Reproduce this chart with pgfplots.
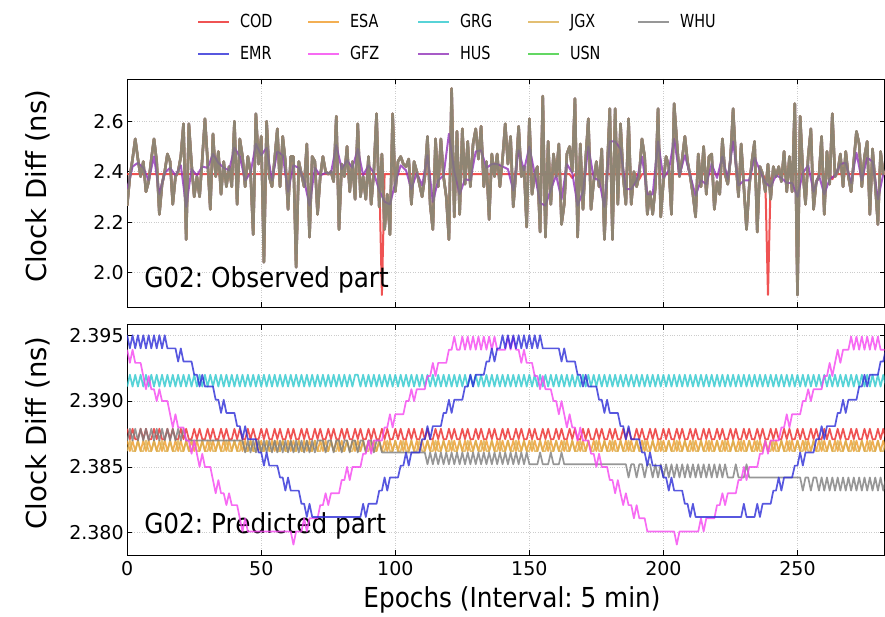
\documentclass[border=0pt]{standalone}
\usepackage{pgfplots}
\pgfplotsset{compat=1.18}
\usepackage{pgfplotstable}
\usepackage{fontspec}
\setmainfont{DejaVu Sans}[FakeStretch=0.9]
\newfontfamily\ylabfont{DejaVu Sans}
\newfontfamily\tickfont{DejaVu Sans}
\newfontfamily\legfont{DejaVu Sans}[FakeStretch=0.8]
\definecolor{codc}{RGB}{235,40,40}
\definecolor{emrc}{RGB}{45,45,215}
\definecolor{esac}{RGB}{240,155,40}
\definecolor{gfzc}{RGB}{245,70,240}
\definecolor{grgc}{RGB}{45,200,205}
\definecolor{husc}{RGB}{145,50,185}
\definecolor{jgxc}{RGB}{220,175,80}
\definecolor{usnc}{RGB}{60,205,60}
\definecolor{whuc}{RGB}{125,125,125}

% observed part (common series of the solutions), one value per epoch
\pgfplotstableread[row sep=\\]{y\\
2.265\\ 2.38\\ 2.45\\ 2.53\\ 2.45\\ 2.38\\ 2.44\\ 2.32\\ 2.36\\ 2.45\\
2.53\\ 2.44\\ 2.23\\ 2.35\\ 2.40\\ 2.47\\ 2.44\\ 2.27\\ 2.38\\ 2.40\\
2.46\\ 2.59\\ 2.13\\ 2.59\\ 2.43\\ 2.30\\ 2.38\\ 2.30\\ 2.45\\ 2.61\\
2.44\\ 2.25\\ 2.55\\ 2.38\\ 2.48\\ 2.31\\ 2.44\\ 2.34\\ 2.42\\ 2.34\\
2.60\\ 2.27\\ 2.53\\ 2.46\\ 2.34\\ 2.46\\ 2.40\\ 2.15\\ 2.63\\ 2.43\\
2.54\\ 2.04\\ 2.60\\ 2.38\\ 2.34\\ 2.45\\ 2.57\\ 2.34\\ 2.54\\ 2.44\\
2.25\\ 2.46\\ 2.46\\ 2.02\\ 2.44\\ 2.39\\ 2.34\\ 2.51\\ 2.14\\ 2.46\\
2.44\\ 2.23\\ 2.38\\ 2.46\\ 2.40\\ 2.39\\ 2.40\\ 2.36\\ 2.62\\ 2.17\\
2.43\\ 2.38\\ 2.50\\ 2.32\\ 2.44\\ 2.29\\ 2.59\\ 2.30\\ 2.38\\ 2.29\\
2.46\\ 2.27\\ 2.40\\ 2.63\\ 2.26\\ 2.47\\ 2.17\\ 2.31\\ 2.15\\ 2.63\\
2.32\\ 2.44\\ 2.46\\ 2.43\\ 2.42\\ 2.45\\ 2.27\\ 2.44\\ 2.40\\ 2.35\\
2.30\\ 2.38\\ 2.54\\ 2.27\\ 2.17\\ 2.53\\ 2.34\\ 2.53\\ 2.38\\ 2.30\\
2.13\\ 2.73\\ 2.22\\ 2.56\\ 2.23\\ 2.57\\ 2.35\\ 2.52\\ 2.34\\ 2.51\\
2.57\\ 2.45\\ 2.58\\ 2.34\\ 2.44\\ 2.21\\ 2.47\\ 2.38\\ 2.47\\ 2.34\\
2.45\\ 2.59\\ 2.43\\ 2.54\\ 2.26\\ 2.40\\ 2.58\\ 2.38\\ 2.42\\ 2.18\\
2.61\\ 2.31\\ 2.39\\ 2.42\\ 2.16\\ 2.70\\ 2.14\\ 2.52\\ 2.27\\ 2.47\\
2.38\\ 2.51\\ 2.19\\ 2.27\\ 2.47\\ 2.50\\ 2.40\\ 2.69\\ 2.14\\ 2.51\\
2.25\\ 2.45\\ 2.61\\ 2.25\\ 2.36\\ 2.44\\ 2.34\\ 2.49\\ 2.13\\ 2.40\\
2.65\\ 2.13\\ 2.65\\ 2.27\\ 2.59\\ 2.38\\ 2.27\\ 2.61\\ 2.27\\ 2.40\\
2.34\\ 2.39\\ 2.53\\ 2.46\\ 2.23\\ 2.32\\ 2.23\\ 2.34\\ 2.65\\ 2.22\\
2.36\\ 2.46\\ 2.42\\ 2.23\\ 2.67\\ 2.52\\ 2.38\\ 2.45\\ 2.54\\ 2.44\\
2.38\\ 2.31\\ 2.22\\ 2.47\\ 2.34\\ 2.50\\ 2.31\\ 2.46\\ 2.47\\ 2.25\\
2.36\\ 2.31\\ 2.53\\ 2.39\\ 2.35\\ 2.45\\ 2.65\\ 2.44\\ 2.30\\ 2.51\\
2.34\\ 2.17\\ 2.34\\ 2.44\\ 2.52\\ 2.16\\ 2.42\\ 2.39\\ 2.32\\ 2.43\\
2.29\\ 2.42\\ 2.38\\ 2.42\\ 2.36\\ 2.48\\ 2.32\\ 2.46\\ 2.32\\ 2.67\\
1.91\\ 2.62\\ 2.40\\ 2.27\\ 2.46\\ 2.57\\ 2.25\\ 2.36\\ 2.38\\ 2.54\\
2.23\\ 2.48\\ 2.35\\ 2.63\\ 2.38\\ 2.40\\ 2.47\\ 2.34\\ 2.48\\ 2.38\\
2.32\\ 2.44\\ 2.56\\ 2.51\\ 2.34\\ 2.46\\ 2.52\\ 2.23\\ 2.49\\ 2.35\\
2.19\\ 2.48\\ 2.39\\ 2.40\\
}\obs

% predicted part
\pgfplotstableread[row sep=\\]{y\\
2.395\\ 2.394\\ 2.395\\ 2.394\\ 2.395\\ 2.394\\ 2.395\\ 2.394\\ 2.395\\ 2.394\\
2.395\\ 2.394\\ 2.395\\ 2.394\\ 2.395\\ 2.394\\ 2.394\\ 2.394\\ 2.394\\ 2.393\\
2.394\\ 2.393\\ 2.393\\ 2.393\\ 2.393\\ 2.392\\ 2.392\\ 2.3911\\ 2.392\\ 2.3911\\
2.3911\\ 2.3911\\ 2.3911\\ 2.3901\\ 2.3901\\ 2.3891\\ 2.3901\\ 2.3891\\ 2.3891\\ 2.3891\\
2.3891\\ 2.3881\\ 2.3881\\ 2.3871\\ 2.3881\\ 2.3871\\ 2.3871\\ 2.3871\\ 2.3871\\ 2.3861\\
2.3861\\ 2.3851\\ 2.3861\\ 2.3851\\ 2.3851\\ 2.3851\\ 2.3851\\ 2.3842\\ 2.3842\\ 2.3832\\
2.3842\\ 2.3832\\ 2.3832\\ 2.3832\\ 2.3832\\ 2.3822\\ 2.3822\\ 2.3812\\ 2.3822\\ 2.3812\\
2.3812\\ 2.3812\\ 2.3812\\ 2.3812\\ 2.3812\\ 2.3812\\ 2.3812\\ 2.3812\\ 2.3812\\ 2.3812\\
2.3812\\ 2.3812\\ 2.3812\\ 2.3812\\ 2.3812\\ 2.3812\\ 2.3812\\ 2.3812\\ 2.3822\\ 2.3812\\
2.3822\\ 2.3822\\ 2.3822\\ 2.3822\\ 2.3832\\ 2.3832\\ 2.3842\\ 2.3832\\ 2.3842\\ 2.3842\\
2.3842\\ 2.3842\\ 2.3851\\ 2.3851\\ 2.3861\\ 2.3851\\ 2.3861\\ 2.3861\\ 2.3861\\ 2.3861\\
2.3871\\ 2.3871\\ 2.3881\\ 2.3871\\ 2.3881\\ 2.3881\\ 2.3881\\ 2.3881\\ 2.3891\\ 2.3891\\
2.3901\\ 2.3891\\ 2.3901\\ 2.3901\\ 2.3901\\ 2.3901\\ 2.3911\\ 2.3911\\ 2.392\\ 2.3911\\
2.392\\ 2.392\\ 2.392\\ 2.392\\ 2.393\\ 2.393\\ 2.394\\ 2.393\\ 2.394\\ 2.394\\
2.395\\ 2.394\\ 2.395\\ 2.394\\ 2.395\\ 2.394\\ 2.395\\ 2.394\\ 2.395\\ 2.394\\
2.395\\ 2.394\\ 2.395\\ 2.394\\ 2.395\\ 2.394\\ 2.394\\ 2.394\\ 2.394\\ 2.394\\
2.394\\ 2.394\\ 2.393\\ 2.394\\ 2.393\\ 2.393\\ 2.393\\ 2.393\\ 2.392\\ 2.392\\
2.3911\\ 2.392\\ 2.3911\\ 2.3911\\ 2.3911\\ 2.3911\\ 2.3901\\ 2.3901\\ 2.3891\\ 2.3901\\
2.3891\\ 2.3891\\ 2.3891\\ 2.3891\\ 2.3881\\ 2.3881\\ 2.3871\\ 2.3881\\ 2.3871\\ 2.3871\\
2.3871\\ 2.3871\\ 2.3861\\ 2.3861\\ 2.3851\\ 2.3861\\ 2.3851\\ 2.3851\\ 2.3851\\ 2.3851\\
2.3842\\ 2.3842\\ 2.3832\\ 2.3842\\ 2.3832\\ 2.3832\\ 2.3832\\ 2.3832\\ 2.3822\\ 2.3822\\
2.3812\\ 2.3822\\ 2.3812\\ 2.3812\\ 2.3812\\ 2.3812\\ 2.3812\\ 2.3812\\ 2.3812\\ 2.3812\\
2.3812\\ 2.3812\\ 2.3812\\ 2.3812\\ 2.3812\\ 2.3812\\ 2.3812\\ 2.3812\\ 2.3812\\ 2.3812\\
2.3822\\ 2.3812\\ 2.3812\\ 2.3812\\ 2.3812\\ 2.3822\\ 2.3812\\ 2.3822\\ 2.3822\\ 2.3822\\
2.3822\\ 2.3832\\ 2.3832\\ 2.3842\\ 2.3832\\ 2.3842\\ 2.3842\\ 2.3842\\ 2.3842\\ 2.3851\\
2.3851\\ 2.3861\\ 2.3851\\ 2.3861\\ 2.3861\\ 2.3861\\ 2.3861\\ 2.3871\\ 2.3871\\ 2.3881\\
2.3871\\ 2.3881\\ 2.3881\\ 2.3881\\ 2.3881\\ 2.3891\\ 2.3891\\ 2.3901\\ 2.3891\\ 2.3901\\
2.3901\\ 2.3901\\ 2.3901\\ 2.3911\\ 2.3911\\ 2.392\\ 2.3911\\ 2.392\\ 2.392\\ 2.392\\
2.392\\ 2.393\\ 2.393\\ 2.394\\
}\emr

\pgfplotstableread[row sep=\\]{y\\
2.3939\\ 2.3929\\ 2.3939\\
2.3929\\ 2.3929\\ 2.3929\\
2.3919\\ 2.3909\\ 2.3919\\
2.3909\\ 2.3909\\ 2.39\\ 2.3909\\
2.39\\ 2.39\\ 2.39\\
2.389\\ 2.388\\ 2.389\\
2.388\\ 2.388\\ 2.388\\
2.387\\ 2.387\\ 2.386\\ 2.387\\
2.386\\ 2.385\\ 2.386\\
2.385\\ 2.385\\ 2.385\\
2.384\\ 2.383\\ 2.384\\
2.383\\ 2.383\\ 2.3821\\ 2.383\\
2.3821\\ 2.3821\\ 2.3821\\
2.3811\\ 2.3801\\ 2.3811\\
2.3801\\ 2.3801\\ 2.3801\\ 2.3801\\ 2.3801\\ 2.3801\\ 2.3801\\ 2.3801\\ 2.3801\\ 2.3801\\
2.3801\\ 2.3801\\ 2.3801\\ 2.3801\\ 2.3801\\ 2.3801\\ 2.3801\\
2.3791\\ 2.3801\\
2.3801\\ 2.3801\\ 2.3811\\ 2.3801\\
2.3811\\ 2.3811\\ 2.3811\\ 2.3811\\
2.3821\\ 2.3821\\ 2.383\\ 2.3821\\
2.383\\ 2.383\\ 2.383\\ 2.383\\
2.384\\ 2.384\\ 2.385\\ 2.384\\
2.385\\ 2.385\\ 2.385\\ 2.385\\
2.386\\ 2.386\\ 2.387\\ 2.386\\
2.387\\ 2.387\\ 2.387\\ 2.387\\
2.388\\ 2.388\\ 2.389\\ 2.388\\
2.389\\ 2.389\\ 2.389\\ 2.389\\
2.39\\ 2.39\\ 2.3909\\ 2.39\\
2.3909\\ 2.3909\\ 2.3909\\ 2.3909\\
2.3919\\ 2.3919\\ 2.3929\\ 2.3919\\
2.3929\\ 2.3929\\ 2.3929\\ 2.3929\\
2.3939\\ 2.3939\\ 2.3949\\ 2.3939\\
2.3939\\
2.3949\\ 2.3939\\ 2.3949\\ 2.3939\\ 2.3949\\ 2.3939\\ 2.3949\\ 2.3939\\ 2.3949\\ 2.3939\\ 2.3949\\ 2.3939\\ 2.3949\\
2.3939\\ 2.3939\\ 2.3939\\ 2.3939\\
2.3949\\ 2.3939\\ 2.3949\\
2.3939\\ 2.3939\\ 2.3929\\ 2.3939\\
2.3929\\ 2.3929\\ 2.3929\\
2.3919\\ 2.3919\\ 2.3909\\ 2.3919\\
2.3909\\ 2.3909\\ 2.3909\\
2.39\\ 2.39\\ 2.389\\ 2.39\\
2.389\\ 2.388\\ 2.389\\
2.388\\ 2.388\\ 2.387\\ 2.388\\
2.387\\ 2.387\\ 2.387\\
2.386\\ 2.386\\ 2.385\\ 2.386\\
2.385\\ 2.385\\ 2.385\\
2.384\\ 2.384\\ 2.383\\ 2.384\\
2.383\\ 2.3821\\ 2.383\\
2.3821\\ 2.3821\\ 2.3811\\ 2.3821\\
2.3811\\ 2.3811\\ 2.3811\\
2.3801\\ 2.3801\\ 2.3801\\ 2.3801\\ 2.3801\\ 2.3801\\ 2.3801\\ 2.3801\\ 2.3801\\ 2.3801\\ 2.3801\\
2.3791\\
2.3801\\ 2.3801\\ 2.3801\\ 2.3801\\ 2.3801\\ 2.3801\\
2.3801\\ 2.3801\\ 2.3811\\ 2.3801\\
2.3811\\ 2.3811\\ 2.3811\\ 2.3811\\
2.3821\\ 2.3821\\ 2.383\\ 2.3821\\
2.383\\ 2.383\\ 2.383\\ 2.383\\
2.384\\ 2.384\\ 2.385\\ 2.384\\
2.385\\ 2.385\\ 2.385\\ 2.385\\
2.386\\ 2.386\\ 2.387\\ 2.386\\
2.387\\ 2.387\\ 2.387\\ 2.387\\
2.388\\ 2.388\\ 2.389\\ 2.388\\
2.389\\ 2.389\\ 2.389\\ 2.389\\
2.39\\ 2.39\\ 2.3909\\ 2.39\\
2.3909\\ 2.3909\\ 2.3909\\ 2.3909\\
2.3919\\ 2.3919\\ 2.3929\\ 2.3919\\
2.3929\\ 2.3939\\ 2.3929\\
2.3939\\ 2.3939\\ 2.3939\\
2.3949\\ 2.3939\\ 2.3949\\ 2.3939\\ 2.3949\\ 2.3939\\ 2.3949\\ 2.3939\\ 2.3949\\ 2.3939\\ 2.3949\\ 2.3939\\
2.3939\\ 2.3939\\
}\gfz

\pgfplotstableread[row sep=\\]{y\\
2.3911\\ 2.392\\ 2.3911\\ 2.392\\ 2.3911\\ 2.392\\ 2.3911\\ 2.392\\ 2.3911\\ 2.392\\
2.3911\\ 2.392\\ 2.3911\\ 2.392\\ 2.3911\\ 2.392\\ 2.3911\\ 2.392\\ 2.3911\\ 2.392\\
2.3911\\ 2.392\\ 2.3911\\ 2.392\\ 2.3911\\ 2.392\\ 2.3911\\ 2.392\\ 2.3911\\ 2.392\\
2.3911\\ 2.392\\ 2.3911\\ 2.392\\ 2.3911\\ 2.392\\ 2.3911\\ 2.392\\ 2.3911\\ 2.392\\
2.3911\\ 2.392\\ 2.3911\\ 2.392\\ 2.3911\\ 2.392\\ 2.3911\\ 2.392\\ 2.3911\\ 2.392\\
2.3911\\ 2.392\\ 2.3911\\ 2.392\\ 2.3911\\ 2.392\\ 2.3911\\ 2.392\\ 2.3911\\ 2.392\\
2.3911\\ 2.392\\ 2.3911\\ 2.392\\ 2.3911\\ 2.392\\ 2.3911\\ 2.392\\ 2.3911\\ 2.392\\
2.3911\\ 2.392\\ 2.3911\\ 2.392\\ 2.3911\\ 2.392\\ 2.3911\\ 2.392\\ 2.3911\\ 2.392\\
2.3911\\ 2.392\\ 2.3911\\ 2.392\\ 2.3911\\ 2.392\\ 2.392\\ 2.3911\\ 2.392\\ 2.3911\\
2.392\\ 2.3911\\ 2.392\\ 2.3911\\ 2.392\\ 2.3911\\ 2.392\\ 2.3911\\ 2.392\\ 2.3911\\
2.392\\ 2.3911\\ 2.392\\ 2.3911\\ 2.392\\ 2.3911\\ 2.392\\ 2.3911\\ 2.392\\ 2.3911\\
2.392\\ 2.3911\\ 2.392\\ 2.3911\\ 2.392\\ 2.3911\\ 2.392\\ 2.3911\\ 2.392\\ 2.3911\\
2.392\\ 2.3911\\ 2.392\\ 2.3911\\ 2.392\\ 2.3911\\ 2.392\\ 2.3911\\ 2.392\\ 2.3911\\
2.392\\ 2.3911\\ 2.392\\ 2.3911\\ 2.392\\ 2.3911\\ 2.392\\ 2.3911\\ 2.392\\ 2.3911\\
2.392\\ 2.3911\\ 2.392\\ 2.3911\\ 2.392\\ 2.3911\\ 2.392\\ 2.3911\\ 2.392\\ 2.3911\\
2.392\\ 2.3911\\ 2.392\\ 2.3911\\ 2.392\\ 2.3911\\ 2.392\\ 2.3911\\ 2.392\\ 2.3911\\
2.392\\ 2.3911\\ 2.392\\ 2.3911\\ 2.392\\ 2.3911\\ 2.392\\ 2.3911\\ 2.392\\ 2.3911\\
2.392\\ 2.3911\\ 2.392\\ 2.3911\\ 2.392\\ 2.3911\\ 2.392\\ 2.3911\\ 2.392\\ 2.3911\\
2.392\\ 2.3911\\ 2.392\\ 2.3911\\ 2.392\\ 2.3911\\ 2.392\\ 2.3911\\ 2.392\\ 2.3911\\
2.392\\ 2.3911\\ 2.392\\ 2.3911\\ 2.392\\ 2.3911\\ 2.392\\ 2.3911\\ 2.392\\ 2.3911\\
2.392\\ 2.3911\\ 2.392\\ 2.3911\\ 2.392\\ 2.3911\\ 2.392\\ 2.3911\\ 2.392\\ 2.3911\\
2.392\\ 2.3911\\ 2.392\\ 2.3911\\ 2.392\\ 2.3911\\ 2.392\\ 2.3911\\ 2.392\\ 2.3911\\
2.392\\ 2.3911\\ 2.392\\ 2.3911\\ 2.392\\ 2.3911\\ 2.392\\ 2.3911\\ 2.392\\ 2.3911\\
2.392\\ 2.3911\\ 2.392\\ 2.3911\\ 2.392\\ 2.3911\\ 2.392\\ 2.3911\\ 2.392\\ 2.3911\\
2.392\\ 2.3911\\ 2.392\\ 2.3911\\ 2.392\\ 2.3911\\ 2.392\\ 2.3911\\ 2.392\\ 2.3911\\
2.392\\ 2.3911\\ 2.392\\ 2.3911\\ 2.392\\ 2.3911\\ 2.392\\ 2.3911\\ 2.392\\ 2.3911\\
2.392\\ 2.3911\\ 2.392\\ 2.3911\\ 2.392\\ 2.3911\\ 2.392\\ 2.3911\\ 2.392\\ 2.3911\\
2.392\\ 2.3911\\ 2.392\\ 2.3911\\ 2.392\\ 2.3911\\ 2.392\\ 2.3911\\ 2.392\\ 2.3911\\
2.392\\ 2.3911\\ 2.392\\ 2.3911\\
}\grg

\pgfplotstableread[row sep=\\]{y\\
2.3879\\ 2.3871\\ 2.3879\\ 2.3871\\ 2.3871\\ 2.3879\\ 2.3871\\ 2.3879\\ 2.3871\\ 2.3871\\
2.3879\\ 2.3871\\ 2.3879\\ 2.3871\\ 2.3871\\ 2.3879\\ 2.3871\\ 2.3879\\ 2.3871\\ 2.3871\\
2.3879\\ 2.3871\\ 2.3879\\ 2.3871\\ 2.3871\\ 2.3879\\ 2.3871\\ 2.3879\\ 2.3871\\ 2.3871\\
2.3879\\ 2.3871\\ 2.3879\\ 2.3871\\ 2.3871\\ 2.3879\\ 2.3871\\ 2.3879\\ 2.3871\\ 2.3871\\
2.3879\\ 2.3871\\ 2.3879\\ 2.3871\\ 2.3871\\ 2.3879\\ 2.3871\\ 2.3879\\ 2.3871\\ 2.3871\\
2.3879\\ 2.3871\\ 2.3879\\ 2.3871\\ 2.3871\\ 2.3879\\ 2.3871\\ 2.3879\\ 2.3871\\ 2.3871\\
2.3879\\ 2.3871\\ 2.3879\\ 2.3871\\ 2.3871\\ 2.3879\\ 2.3871\\ 2.3879\\ 2.3871\\ 2.3871\\
2.3879\\ 2.3871\\ 2.3879\\ 2.3871\\ 2.3871\\ 2.3879\\ 2.3871\\ 2.3879\\ 2.3871\\ 2.3871\\
2.3879\\ 2.3871\\ 2.3879\\ 2.3871\\ 2.3871\\ 2.3879\\ 2.3871\\ 2.3879\\ 2.3871\\ 2.3871\\
2.3879\\ 2.3871\\ 2.3879\\ 2.3871\\ 2.3871\\ 2.3879\\ 2.3871\\ 2.3879\\ 2.3871\\ 2.3871\\
2.3879\\ 2.3871\\ 2.3879\\ 2.3871\\ 2.3871\\ 2.3879\\ 2.3871\\ 2.3879\\ 2.3871\\ 2.3871\\
2.3879\\ 2.3871\\ 2.3879\\ 2.3871\\ 2.3871\\ 2.3879\\ 2.3871\\ 2.3879\\ 2.3871\\ 2.3871\\
2.3879\\ 2.3871\\ 2.3879\\ 2.3871\\ 2.3871\\ 2.3879\\ 2.3871\\ 2.3879\\ 2.3871\\ 2.3871\\
2.3879\\ 2.3871\\ 2.3879\\ 2.3871\\ 2.3871\\ 2.3879\\ 2.3871\\ 2.3879\\ 2.3871\\ 2.3871\\
2.3879\\ 2.3871\\ 2.3879\\ 2.3871\\ 2.3871\\ 2.3879\\ 2.3871\\ 2.3879\\ 2.3871\\ 2.3871\\
2.3879\\ 2.3871\\ 2.3879\\ 2.3871\\ 2.3871\\ 2.3879\\ 2.3871\\ 2.3879\\ 2.3871\\ 2.3871\\
2.3879\\ 2.3871\\ 2.3879\\ 2.3871\\ 2.3871\\ 2.3879\\ 2.3871\\ 2.3879\\ 2.3871\\ 2.3871\\
2.3879\\ 2.3871\\ 2.3879\\ 2.3871\\ 2.3871\\ 2.3879\\ 2.3871\\ 2.3879\\ 2.3871\\ 2.3871\\
2.3879\\ 2.3871\\ 2.3879\\ 2.3871\\ 2.3871\\ 2.3879\\ 2.3871\\ 2.3879\\ 2.3871\\ 2.3871\\
2.3879\\ 2.3871\\ 2.3879\\ 2.3871\\ 2.3871\\ 2.3879\\ 2.3871\\ 2.3879\\ 2.3871\\ 2.3871\\
2.3879\\ 2.3871\\ 2.3879\\ 2.3871\\ 2.3871\\ 2.3879\\ 2.3871\\ 2.3879\\ 2.3871\\ 2.3871\\
2.3879\\ 2.3871\\ 2.3879\\ 2.3871\\ 2.3871\\ 2.3879\\ 2.3871\\ 2.3879\\ 2.3871\\ 2.3871\\
2.3879\\ 2.3871\\ 2.3879\\ 2.3871\\ 2.3871\\ 2.3879\\ 2.3871\\ 2.3879\\ 2.3871\\ 2.3871\\
2.3879\\ 2.3871\\ 2.3879\\ 2.3871\\ 2.3871\\ 2.3879\\ 2.3871\\ 2.3879\\ 2.3871\\ 2.3871\\
2.3879\\ 2.3871\\ 2.3879\\ 2.3871\\ 2.3871\\ 2.3879\\ 2.3871\\ 2.3879\\ 2.3871\\ 2.3871\\
2.3879\\ 2.3871\\ 2.3879\\ 2.3871\\ 2.3871\\ 2.3879\\ 2.3871\\ 2.3879\\ 2.3871\\ 2.3871\\
2.3879\\ 2.3871\\ 2.3879\\ 2.3871\\ 2.3871\\ 2.3879\\ 2.3871\\ 2.3879\\ 2.3871\\ 2.3871\\
2.3879\\ 2.3871\\ 2.3879\\ 2.3871\\ 2.3871\\ 2.3879\\ 2.3871\\ 2.3879\\ 2.3871\\ 2.3871\\
2.3879\\ 2.3871\\ 2.3879\\ 2.3871\\
}\codp

\pgfplotstableread[row sep=\\]{y\\
2.387\\ 2.3862\\ 2.387\\ 2.3862\\ 2.387\\ 2.3862\\ 2.387\\ 2.3862\\ 2.387\\ 2.3862\\
2.387\\ 2.3862\\ 2.387\\ 2.3862\\ 2.387\\ 2.3862\\ 2.387\\ 2.3862\\ 2.387\\ 2.3862\\
2.387\\ 2.3862\\ 2.387\\ 2.3862\\ 2.387\\ 2.3862\\ 2.387\\ 2.3862\\ 2.387\\ 2.3862\\
2.387\\ 2.3862\\ 2.387\\ 2.3862\\ 2.387\\ 2.3862\\ 2.387\\ 2.3862\\ 2.387\\ 2.3862\\
2.387\\ 2.3862\\ 2.387\\ 2.3862\\ 2.387\\ 2.3862\\ 2.387\\ 2.3862\\ 2.387\\ 2.3862\\
2.387\\ 2.3862\\ 2.387\\ 2.3862\\ 2.387\\ 2.3862\\ 2.387\\ 2.3862\\ 2.387\\ 2.3862\\
2.387\\ 2.3862\\ 2.387\\ 2.3862\\ 2.387\\ 2.3862\\ 2.387\\ 2.3862\\ 2.387\\ 2.3862\\
2.387\\ 2.3862\\ 2.387\\ 2.3862\\ 2.387\\ 2.3862\\ 2.387\\ 2.3862\\ 2.387\\ 2.3862\\
2.387\\ 2.3862\\ 2.387\\ 2.3862\\ 2.387\\ 2.3862\\ 2.387\\ 2.3862\\ 2.387\\ 2.3862\\
2.387\\ 2.3862\\ 2.387\\ 2.3862\\ 2.387\\ 2.3862\\ 2.387\\ 2.3862\\ 2.387\\ 2.3862\\
2.387\\ 2.3862\\ 2.387\\ 2.3862\\ 2.387\\ 2.3862\\ 2.387\\ 2.3862\\ 2.387\\ 2.3862\\
2.387\\ 2.3862\\ 2.387\\ 2.3862\\ 2.387\\ 2.3862\\ 2.387\\ 2.3862\\ 2.387\\ 2.3862\\
2.387\\ 2.3862\\ 2.387\\ 2.3862\\ 2.387\\ 2.3862\\ 2.387\\ 2.3862\\ 2.387\\ 2.3862\\
2.387\\ 2.3862\\ 2.387\\ 2.3862\\ 2.387\\ 2.3862\\ 2.387\\ 2.3862\\ 2.387\\ 2.3862\\
2.387\\ 2.3862\\ 2.387\\ 2.3862\\ 2.387\\ 2.3862\\ 2.387\\ 2.3862\\ 2.387\\ 2.3862\\
2.387\\ 2.3862\\ 2.387\\ 2.3862\\ 2.387\\ 2.3862\\ 2.387\\ 2.3862\\ 2.387\\ 2.3862\\
2.387\\ 2.3862\\ 2.387\\ 2.3862\\ 2.387\\ 2.3862\\ 2.387\\ 2.3862\\ 2.387\\ 2.3862\\
2.387\\ 2.3862\\ 2.387\\ 2.3862\\ 2.387\\ 2.3862\\ 2.387\\ 2.3862\\ 2.387\\ 2.3862\\
2.387\\ 2.3862\\ 2.387\\ 2.3862\\ 2.387\\ 2.3862\\ 2.387\\ 2.3862\\ 2.387\\ 2.3862\\
2.387\\ 2.3862\\ 2.387\\ 2.3862\\ 2.387\\ 2.3862\\ 2.387\\ 2.3862\\ 2.387\\ 2.3862\\
2.387\\ 2.3862\\ 2.387\\ 2.3862\\ 2.387\\ 2.3862\\ 2.387\\ 2.3862\\ 2.387\\ 2.3862\\
2.387\\ 2.3862\\ 2.387\\ 2.3862\\ 2.387\\ 2.3862\\ 2.387\\ 2.3862\\ 2.387\\ 2.3862\\
2.387\\ 2.3862\\ 2.387\\ 2.3862\\ 2.387\\ 2.3862\\ 2.387\\ 2.3862\\ 2.387\\ 2.3862\\
2.387\\ 2.3862\\ 2.387\\ 2.3862\\ 2.387\\ 2.3862\\ 2.387\\ 2.3862\\ 2.387\\ 2.3862\\
2.387\\ 2.3862\\ 2.387\\ 2.3862\\ 2.387\\ 2.3862\\ 2.387\\ 2.3862\\ 2.387\\ 2.3862\\
2.387\\ 2.3862\\ 2.387\\ 2.3862\\ 2.387\\ 2.3862\\ 2.387\\ 2.3862\\ 2.387\\ 2.3862\\
2.387\\ 2.3862\\ 2.387\\ 2.3862\\ 2.387\\ 2.3862\\ 2.387\\ 2.3862\\ 2.387\\ 2.3862\\
2.387\\ 2.3862\\ 2.387\\ 2.3862\\ 2.387\\ 2.3862\\ 2.387\\ 2.3862\\ 2.387\\ 2.3862\\
2.387\\ 2.3862\\ 2.387\\ 2.3862\\
}\esa

\pgfplotstableread[row sep=\\]{y\\
2.3862\\ 2.387\\ 2.3862\\ 2.3862\\ 2.387\\ 2.3862\\ 2.3862\\ 2.387\\ 2.3862\\
2.3862\\ 2.387\\ 2.3862\\ 2.3862\\ 2.387\\ 2.3862\\ 2.3862\\ 2.387\\ 2.3862\\
2.3862\\ 2.387\\ 2.3862\\ 2.3862\\ 2.387\\ 2.3862\\ 2.3862\\ 2.387\\ 2.3862\\
2.3862\\ 2.387\\ 2.3862\\ 2.3862\\ 2.387\\ 2.3862\\ 2.3862\\ 2.387\\ 2.3862\\
2.3862\\ 2.387\\ 2.3862\\ 2.3862\\ 2.387\\ 2.3862\\ 2.3862\\ 2.387\\ 2.3862\\
2.3862\\ 2.387\\ 2.3862\\ 2.3862\\ 2.387\\ 2.3862\\ 2.3862\\ 2.387\\ 2.3862\\
2.3862\\ 2.387\\ 2.3862\\ 2.3862\\ 2.387\\ 2.3862\\ 2.3862\\ 2.387\\ 2.3862\\
2.3862\\ 2.387\\ 2.3862\\ 2.3862\\ 2.387\\ 2.3862\\ 2.3862\\ 2.387\\ 2.3862\\
2.3862\\ 2.387\\ 2.3862\\ 2.3862\\ 2.387\\ 2.3862\\ 2.3862\\ 2.387\\ 2.3862\\
2.3862\\ 2.387\\ 2.3862\\ 2.3862\\ 2.387\\ 2.3862\\ 2.3862\\ 2.387\\ 2.3862\\
2.3862\\ 2.387\\ 2.3862\\ 2.3862\\ 2.387\\ 2.3862\\ 2.3862\\ 2.387\\ 2.3862\\
2.3862\\ 2.387\\ 2.3862\\ 2.3862\\ 2.387\\ 2.3862\\ 2.3862\\ 2.387\\ 2.3862\\
2.3862\\ 2.387\\ 2.3862\\ 2.3862\\ 2.387\\ 2.3862\\ 2.3862\\ 2.387\\ 2.3862\\
2.3862\\ 2.387\\ 2.3862\\ 2.3862\\ 2.387\\ 2.3862\\ 2.3862\\ 2.387\\ 2.3862\\
2.3862\\ 2.387\\ 2.3862\\ 2.3862\\ 2.387\\ 2.3862\\ 2.3862\\ 2.387\\ 2.3862\\
2.3862\\ 2.387\\ 2.3862\\ 2.3862\\ 2.387\\ 2.3862\\ 2.3862\\ 2.387\\ 2.3862\\
2.3862\\ 2.387\\ 2.3862\\ 2.3862\\ 2.387\\ 2.3862\\ 2.3862\\ 2.387\\ 2.3862\\
2.3862\\ 2.387\\ 2.3862\\ 2.3862\\ 2.387\\ 2.3862\\ 2.3862\\ 2.387\\ 2.3862\\
2.3862\\ 2.387\\ 2.3862\\ 2.3862\\ 2.387\\ 2.3862\\ 2.3862\\ 2.387\\ 2.3862\\
2.3862\\ 2.387\\ 2.3862\\ 2.3862\\ 2.387\\ 2.3862\\ 2.3862\\ 2.387\\ 2.3862\\
2.3862\\ 2.387\\ 2.3862\\ 2.3862\\ 2.387\\ 2.3862\\ 2.3862\\ 2.387\\ 2.3862\\
2.3862\\ 2.387\\ 2.3862\\ 2.3862\\ 2.387\\ 2.3862\\ 2.3862\\ 2.387\\ 2.3862\\
2.3862\\ 2.387\\ 2.3862\\ 2.3862\\ 2.387\\ 2.3862\\ 2.3862\\ 2.387\\ 2.3862\\
2.3862\\ 2.387\\ 2.3862\\ 2.3862\\ 2.387\\ 2.3862\\ 2.3862\\ 2.387\\ 2.3862\\
2.3862\\ 2.387\\ 2.3862\\ 2.3862\\ 2.387\\ 2.3862\\ 2.3862\\ 2.387\\ 2.3862\\
2.3862\\ 2.387\\ 2.3862\\ 2.3862\\ 2.387\\ 2.3862\\ 2.3862\\ 2.387\\ 2.3862\\
2.3862\\ 2.387\\ 2.3862\\ 2.3862\\ 2.387\\ 2.3862\\ 2.3862\\ 2.387\\ 2.3862\\
2.3862\\ 2.387\\ 2.3862\\ 2.3862\\ 2.387\\ 2.3862\\ 2.3862\\ 2.387\\ 2.3862\\
2.3862\\ 2.387\\ 2.3862\\ 2.3862\\ 2.387\\ 2.3862\\ 2.3862\\ 2.387\\ 2.3862\\
2.3862\\ 2.387\\ 2.3862\\ 2.3862\\ 2.387\\ 2.3862\\ 2.3862\\ 2.387\\ 2.3862\\
2.3862\\ 2.387\\ 2.3862\\ 2.3862\\ 2.387\\ 2.3862\\ 2.3862\\ 2.387\\ 2.3862\\
2.3862\\ 2.387\\ 2.3862\\ 2.3862\\ 2.387\\ 2.3862\\ 2.3862\\ 2.387\\
}\jgx

\pgfplotstableread[row sep=\\]{y\\
2.387\\ 2.3879\\ 2.387\\ 2.3879\\ 2.387\\ 2.3879\\ 2.387\\ 2.3879\\ 2.387\\ 2.3879\\ 2.387\\
2.3879\\ 2.387\\ 2.3879\\ 2.387\\ 2.3879\\ 2.387\\ 2.3879\\ 2.387\\ 2.3879\\ 2.387\\ 2.3879\\
2.387\\ 2.387\\ 2.387\\ 2.387\\ 2.387\\ 2.387\\ 2.387\\ 2.387\\ 2.387\\ 2.387\\ 2.387\\
2.387\\ 2.387\\ 2.387\\ 2.387\\ 2.387\\ 2.387\\ 2.387\\ 2.387\\ 2.387\\ 2.387\\ 2.387\\
2.3861\\ 2.387\\ 2.3861\\ 2.387\\ 2.3861\\ 2.387\\ 2.3861\\ 2.387\\ 2.3861\\ 2.387\\
2.3861\\ 2.387\\ 2.3861\\ 2.387\\ 2.3861\\ 2.387\\ 2.3861\\ 2.387\\ 2.3861\\ 2.387\\
2.3861\\ 2.387\\ 2.3861\\ 2.387\\ 2.3861\\ 2.387\\ 2.3861\\ 2.387\\
2.387\\ 2.387\\ 2.3861\\ 2.387\\ 2.387\\ 2.3861\\ 2.387\\ 2.387\\ 2.3861\\ 2.387\\ 2.387\\ 2.3861\\
2.387\\ 2.387\\ 2.3861\\ 2.387\\ 2.387\\ 2.3861\\ 2.387\\ 2.387\\ 2.3861\\ 2.387\\ 2.387\\ 2.3861\\
2.3861\\ 2.3861\\ 2.3861\\ 2.3861\\ 2.3861\\ 2.3861\\ 2.3861\\ 2.3861\\
2.3861\\ 2.3861\\ 2.3861\\ 2.3861\\ 2.3861\\ 2.3861\\ 2.3861\\ 2.3861\\
2.3852\\ 2.3861\\ 2.3852\\ 2.3861\\ 2.3852\\ 2.3861\\ 2.3852\\ 2.3861\\ 2.3852\\ 2.3861\\
2.3852\\ 2.3861\\ 2.3852\\ 2.3861\\ 2.3852\\ 2.3861\\ 2.3852\\ 2.3861\\ 2.3852\\ 2.3861\\
2.3852\\ 2.3861\\ 2.3852\\ 2.3861\\ 2.3852\\ 2.3861\\ 2.3852\\ 2.3861\\ 2.3852\\ 2.3861\\
2.3852\\ 2.3861\\ 2.3852\\ 2.3861\\ 2.3852\\ 2.3861\\ 2.3852\\ 2.3861\\ 2.3852\\
2.3852\\ 2.3852\\ 2.3852\\ 2.3861\\ 2.3852\\ 2.3852\\ 2.3852\\ 2.3861\\ 2.3852\\ 2.3852\\ 2.3852\\ 2.3861\\
2.3852\\ 2.3852\\ 2.3852\\ 2.3852\\ 2.3852\\ 2.3852\\ 2.3852\\ 2.3852\\ 2.3852\\ 2.3852\\ 2.3852\\ 2.3852\\
2.3852\\ 2.3852\\ 2.3852\\ 2.3852\\ 2.3852\\ 2.3852\\ 2.3852\\ 2.3852\\ 2.3852\\ 2.3852\\ 2.3852\\
2.3852\\ 2.3842\\ 2.3852\\ 2.3852\\ 2.3842\\ 2.3852\\ 2.3852\\ 2.3842\\ 2.3852\\ 2.3852\\
2.3842\\ 2.3852\\ 2.3842\\ 2.3852\\ 2.3842\\ 2.3852\\ 2.3842\\ 2.3852\\ 2.3842\\ 2.3852\\
2.3842\\ 2.3852\\ 2.3842\\ 2.3852\\ 2.3842\\ 2.3852\\ 2.3842\\ 2.3852\\ 2.3842\\ 2.3852\\
2.3842\\ 2.3852\\ 2.3842\\ 2.3852\\ 2.3842\\ 2.3852\\ 2.3842\\ 2.3852\\ 2.3842\\
2.3842\\ 2.3842\\ 2.3852\\ 2.3842\\ 2.3842\\ 2.3842\\ 2.3852\\ 2.3842\\ 2.3842\\
2.3842\\ 2.3842\\ 2.3842\\ 2.3842\\ 2.3842\\ 2.3842\\ 2.3842\\ 2.3842\\ 2.3842\\
2.3842\\ 2.3842\\ 2.3842\\ 2.3842\\ 2.3842\\ 2.3842\\ 2.3842\\ 2.3842\\
2.3842\\ 2.3832\\ 2.3842\\ 2.3842\\ 2.3832\\ 2.3842\\ 2.3842\\ 2.3832\\ 2.3842\\
2.3832\\ 2.3842\\ 2.3832\\ 2.3842\\ 2.3832\\ 2.3842\\ 2.3832\\ 2.3842\\ 2.3832\\ 2.3842\\ 2.3832\\ 2.3842\\
2.3832\\ 2.3842\\ 2.3832\\ 2.3842\\ 2.3832\\ 2.3842\\ 2.3832\\ 2.3842\\ 2.3832\\ 2.3842\\ 2.3832\\ 2.3842\\
}\whu

\pgfplotsset{
  sCOD/.style={color=codc},
  sEMR/.style={color=emrc},
  sESA/.style={color=esac},
  sGFZ/.style={color=gfzc},
  sGRG/.style={color=grgc},
  sHUS/.style={color=husc},
  sJGX/.style={color=jgxc},
  sUSN/.style={color=usnc},
  sWHU/.style={color=whuc},
  myax/.style={
    scale only axis, width=757.4pt,
    xmin=0, xmax=282.5,
    axis line style={line width=0.9pt, black},
    tick align=inside, xtick pos=both, ytick pos=both,
    major tick length=5pt, tick style={black, line width=0.8pt},
    grid=major, major grid style={dotted, line width=0.6pt, gray!40},
    ticklabel style={font=\tickfont\fontsize{19}{22}\selectfont},
    xticklabel style={yshift=-3pt},
    /pgf/number format/assume math mode=true,
    xtick={0,50,100,150,200,250},
    scaled y ticks=false,
    ylabel style={at={(axis description cs:-0.1175,0.53)}, anchor=center,
      font=\ylabfont\fontsize{27.5}{32}\selectfont},
    every axis plot/.append style={line join=round, opacity=0.8},
  },
}
\newcommand\legtxt[1]{\hspace*{8pt}\makebox[65pt][l]{#1}}

\begin{document}
\frenchspacing
\begin{tikzpicture}
\useasboundingbox (0,0) rectangle (885pt,617pt);

% ---------------- top panel ----------------
\begin{axis}[myax,
  at={(127.2pt,309.7pt)}, anchor=south west,
  height=228.3pt,
  ymin=1.861, ymax=2.768,
  ytick={2.0,2.2,2.4,2.6},
  yticklabel style={/pgf/number format/.cd, fixed, fixed zerofill, precision=1},
  xticklabels={},
  ylabel={Clock Diff (ns)},
  legend style={draw=none, fill=none, inner sep=0pt, outer sep=0pt,
    at={(axis description cs:0.0922,1.292)}, anchor=north west,
    legend columns=5, font=\legfont\fontsize{18}{21}\selectfont,
    column sep=0pt,
    row sep=13pt, legend cell align=left},
  legend image code/.code={\draw[#1, line width=2pt] (0pt,0pt) -- (31pt,0pt);},
]
\addplot[sUSN, line width=2pt, forget plot] table[x expr=\coordindex, y=y] {\obs};
\addplot[sGRG, line width=2.4pt, forget plot] table[x expr=\coordindex, y=y] {\obs};
\addplot[sGFZ, line width=2.4pt, forget plot] table[x expr=\coordindex, y=y] {\obs};
\addplot[sEMR, line width=2.4pt, forget plot] table[x expr=\coordindex, y=y] {\obs};
\addplot[sESA, line width=2.4pt, forget plot] table[x expr=\coordindex, y=y] {\obs};
\addplot[sCOD, line width=2pt, forget plot] coordinates {
(0,2.39) (94,2.39) (95,1.91) (96,2.39) (165,2.39) (166,2.375) (167,2.39)
(190,2.39) (191,2.37) (192,2.39) (237,2.39) (238,2.37) (239,1.91) (240,2.37)
(241,2.39) (262,2.39) (263,2.37) (264,2.39) (283,2.39)};
\addplot[sJGX, line width=2.6pt, forget plot] table[x expr=\coordindex, y=y] {\obs};
\addplot[sHUS, line width=2pt, forget plot] coordinates {
(0,2.33) (2,2.42) (4,2.435) (6,2.415) (8,2.365) (10,2.46) (12,2.31) (14,2.395)
(16,2.415) (18,2.385) (20,2.425) (22,2.26) (24,2.41) (26,2.385) (28,2.42) (30,2.415)
(32,2.47) (34,2.435) (36,2.415) (38,2.405) (40,2.495) (42,2.46) (44,2.365) (46,2.395)
(48,2.51) (50,2.465) (52,2.495) (54,2.365) (56,2.48) (58,2.465) (60,2.32) (62,2.425)
(64,2.415) (66,2.365) (68,2.265) (70,2.415) (72,2.385) (74,2.395) (76,2.395) (78,2.505)
(80,2.41) (82,2.445) (84,2.415) (86,2.49) (88,2.385) (90,2.425) (92,2.395) (94,2.325)
(96,2.28) (98,2.27) (100,2.355) (102,2.425) (104,2.405) (106,2.33) (108,2.395) (110,2.345)
(112,2.465) (114,2.28) (116,2.365) (118,2.385) (120,2.55) (122,2.40) (124,2.31) (126,2.37)
(128,2.365) (130,2.48) (132,2.485) (134,2.415) (136,2.43) (138,2.43) (140,2.42) (142,2.41)
(144,2.325) (146,2.485) (148,2.405) (150,2.50) (152,2.39) (154,2.275) (156,2.265) (158,2.33)
(160,2.385) (162,2.29) (164,2.43) (166,2.395) (168,2.265) (170,2.32) (172,2.50) (174,2.375)
(176,2.365) (178,2.26) (180,2.52) (182,2.52) (184,2.49) (186,2.33) (188,2.33) (190,2.365)
(192,2.46) (194,2.31) (196,2.31) (198,2.52) (200,2.375) (202,2.405) (204,2.53) (206,2.385)
(208,2.465) (210,2.385) (212,2.305) (214,2.365) (216,2.35) (218,2.43) (220,2.375) (222,2.46)
(224,2.37) (226,2.52) (228,2.345) (230,2.365) (232,2.365) (234,2.455) (236,2.405) (238,2.355)
(240,2.34) (242,2.385) (244,2.375) (246,2.355) (248,2.355) (250,2.30) (252,2.395) (254,2.425)
(256,2.32) (258,2.385) (260,2.31) (262,2.37) (264,2.385) (266,2.43) (268,2.435) (270,2.355)
(272,2.475) (274,2.365) (276,2.455) (278,2.44) (280,2.29) (282,2.39)};
\addplot[sWHU, line width=2.6pt, forget plot] table[x expr=\coordindex, y=y] {\obs};

\node[anchor=base west, inner sep=0pt, font=\fontsize{27.5}{32}\selectfont]
  at (axis cs:6.3,1.9416) {G02: Observed part};

\addlegendimage{sCOD}\addlegendentry{\legtxt{COD}}
\addlegendimage{sESA}\addlegendentry{\legtxt{ESA}}
\addlegendimage{sGRG}\addlegendentry{\legtxt{GRG}}
\addlegendimage{sJGX}\addlegendentry{\legtxt{JGX}}
\addlegendimage{sWHU}\addlegendentry{\legtxt{WHU}}
\addlegendimage{sEMR}\addlegendentry{\legtxt{EMR}}
\addlegendimage{sGFZ}\addlegendentry{\legtxt{GFZ}}
\addlegendimage{sHUS}\addlegendentry{\legtxt{HUS}}
\addlegendimage{sUSN}\addlegendentry{\legtxt{USN}}
\end{axis}

% ---------------- bottom panel ----------------
\begin{axis}[myax,
  at={(127.2pt,61.7pt)}, anchor=south west,
  height=230.6pt,
  ymin=2.37829, ymax=2.3958,
  ytick={2.380,2.385,2.390,2.395},
  yticklabel style={/pgf/number format/.cd, fixed, fixed zerofill, precision=3},
  ylabel={Clock Diff (ns)},
  xlabel={Epochs (Interval: 5 min)},
  xlabel style={at={(axis description cs:0.508,0)}, yshift=-44.7pt, anchor=center,
    font=\fontsize{27.5}{32}\selectfont},
]
\node[anchor=base west, inner sep=0pt, font=\fontsize{27.5}{32}\selectfont]
  at (axis cs:6.3,2.37995) {G02: Predicted part};
\addplot[sGRG, line width=1.7pt] table[x expr=\coordindex, y=y] {\grg};
\addplot[sCOD, line width=1.7pt] table[x expr=\coordindex, y=y] {\codp};
\addplot[sESA, line width=1.7pt] table[x expr=\coordindex, y=y] {\esa};
\addplot[sJGX, line width=1.7pt] table[x expr=\coordindex, y=y] {\jgx};
\addplot[sWHU, line width=1.7pt] table[x expr=\coordindex, y=y] {\whu};
\addplot[sGFZ, line width=1.7pt] table[x expr=\coordindex, y=y] {\gfz};
\addplot[sEMR, line width=1.7pt] table[x expr=\coordindex, y=y] {\emr};
\end{axis}
\end{tikzpicture}
\end{document}
